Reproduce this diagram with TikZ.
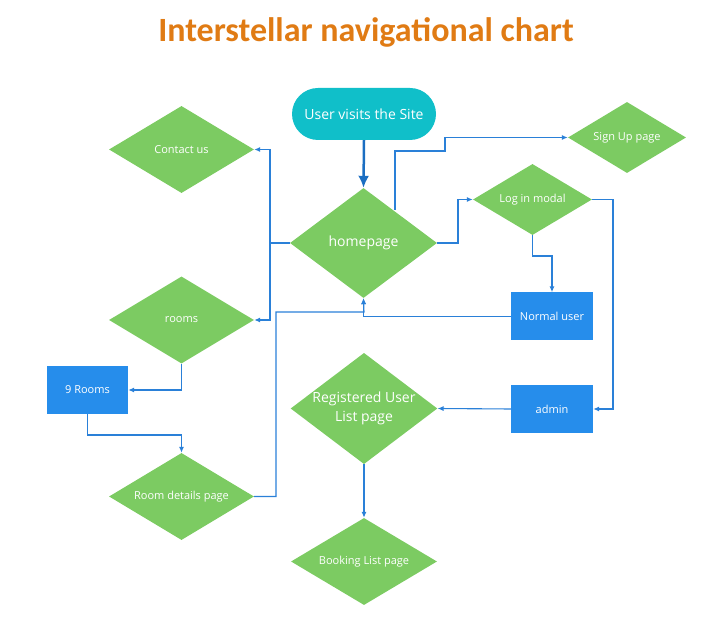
\documentclass[tikz,border=0pt]{standalone}
\usepackage{fontspec}
\setmainfont{Open Sans}
\newfontfamily\titlefont{Carlito}
\usetikzlibrary{shapes.geometric,arrows.meta}
\definecolor{ttl}{HTML}{E07B14}
\definecolor{teal}{HTML}{10BFC9}
\definecolor{grn}{HTML}{7CCB62}
\definecolor{blu}{HTML}{268DEB}
\definecolor{lnk}{HTML}{2A80D8}
\definecolor{thk}{HTML}{1B6EC2}
\tikzset{
  dia/.style={diamond, fill=grn, text=white, inner sep=0pt, align=center, font=\fontsize{11}{13}\selectfont},
  box/.style={rectangle, fill=blu, text=white, inner sep=0pt, minimum width=82pt, minimum height=48pt, font=\fontsize{11}{13}\selectfont},
  conn/.style={draw=lnk, line width=1.1pt, -{Latex[length=6pt,width=5pt]}},
  plain/.style={draw=lnk, line width=1.1pt}
}
\begin{document}
\begin{tikzpicture}[x=1pt,y=-1pt]
\useasboundingbox (0,0) rectangle (713,617);
\node (title) at (366,32) {\titlefont\bfseries\fontsize{34}{38}\selectfont\color{ttl}Interstellar navigational chart};

\node[rounded corners=26pt, fill=teal, text=white, minimum width=144pt, minimum height=52pt, inner sep=0pt, font=\fontsize{14}{16}\selectfont] (start) at (364,114) {User visits the Site};

\node[dia, minimum width=147pt, minimum height=110pt, shape aspect=1.34, font=\fontsize{14}{16}\selectfont] (home) at (363.5,243) {homepage};
\node[dia, minimum width=145pt, minimum height=87pt, shape aspect=1.67] (contact) at (181.5,149.5) {Contact us};
\node[dia, minimum width=145pt, minimum height=87pt, shape aspect=1.67] (rooms) at (181.5,320) {rooms};
\node[box, minimum width=81pt, minimum height=48pt] (nine) at (87.5,390) {9 Rooms};
\node[dia, minimum width=145pt, minimum height=87pt, shape aspect=1.67] (details) at (181.5,496.5) {Room details page};
\node[dia, minimum width=118pt, minimum height=71pt, shape aspect=1.66] (signup) at (627,137.5) {Sign Up page};
\node[dia, minimum width=119pt, minimum height=71pt, shape aspect=1.67] (login) at (532.5,199.5) {Log in modal};
\node[box] (normal) at (552,316.5) {Normal user};
\node[box] (admin) at (552,409) {admin};
\node[dia, minimum width=146pt, minimum height=111pt, shape aspect=1.32, font=\fontsize{14}{19}\selectfont] (reg) at (364,408.5) {Registered User\\List page};
\node[dia, minimum width=146pt, minimum height=87pt, shape aspect=1.68] (booking) at (364,561.5) {Booking List page};

\coordinate (hpup) at (395,210);
\coordinate (hpleft) at (270,243);

% connectors
\draw[draw=thk, line width=2.5pt, -{Latex[length=12pt,width=11pt]}] (start.south) -- (home.north);
\draw[plain] (home.west) -- (hpleft);
\draw[conn] (hpleft) |- (contact.east);
\draw[conn] (hpleft) |- (rooms.east);
\draw[conn] (hpup) -- (395,151) -- (445,151) -- (445,137.5) -- (signup.west);
\draw[conn] (home.east) -- (458,243) |- (login.west);
\draw[conn] (login.south) -- (532.5,256) -| (normal.north);
\draw[conn] (login.east) -- (613,199.5) |- (admin.east);
\draw[conn] (normal.west) -| (home.south);
\draw[conn] (details.east) -- (276,496.5) |- (364,312) -- (home.south);
\draw[conn] (rooms.south) |- (nine.east);
\draw[conn] (nine.south) -- (87.5,435) -| (details.north);
\draw[conn] (admin.west) -- (reg.east);
\draw[conn] (reg.south) -- (booking.north);
\end{tikzpicture}
\end{document}
